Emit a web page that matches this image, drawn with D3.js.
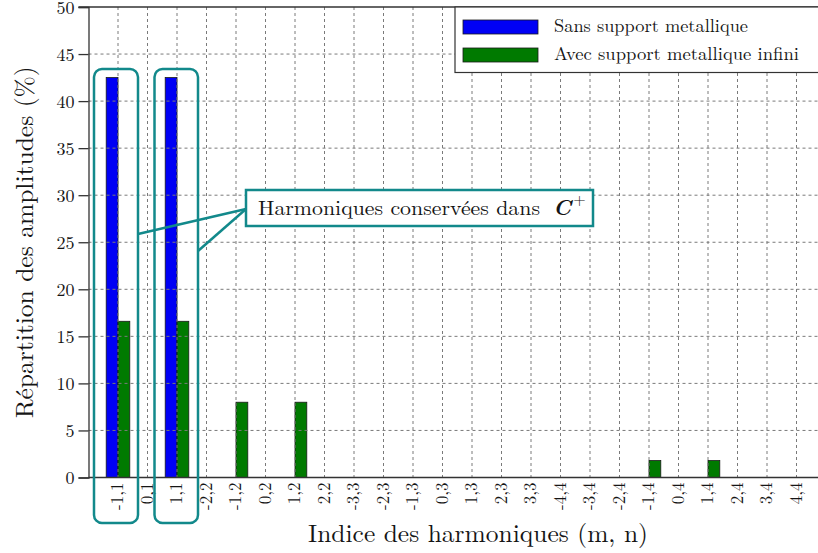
<!DOCTYPE html>
<html>
<head>
<meta charset="utf-8">
<script src="https://cdn.jsdelivr.net/npm/d3@7"></script>
<style>
  html, body { margin: 0; padding: 0; background: #fff; }
  svg { display: block; }
  text { font-family: "Latin Modern Roman", "CMU Serif", "Liberation Serif", "DejaVu Serif", Tinos, "Noto Serif", "Nimbus Roman", FreeSerif, "Times New Roman", Times, serif; fill: #151515; }
</style>
</head>
<body>
<svg id="chart" width="818" height="553"></svg>
<script>
// Harmonic indices (m,n)
const categories = ["-1,1","0,1","1,1","-2,2","-1,2","0,2","1,2","2,2",
  "-3,3","-2,3","-1,3","0,3","1,3","2,3","3,3",
  "-4,4","-3,4","-2,4","-1,4","0,4","1,4","2,4","3,4","4,4"];
// Amplitude share (%) for each configuration
const sansSupport = [42.5,0,42.5,0,0,0,0,0, 0,0,0,0,0,0,0, 0,0,0,0,0,0,0,0,0];
const avecSupport = [16.6,0,16.6,0,8,0,8,0, 0,0,0,0,0,0,0, 0,0,0,1.8,0,1.8,0,0,0];
const seriesNames = ["Sans support metallique", "Avec support metallique infini"];
const seriesColors = ["#0000f5", "#007a00"];
const yTicks = [0,5,10,15,20,25,30,35,40,45,50];

const svg = d3.select("#chart");
const teal = "#12898b";
const ink = "#151515";
const serif = "'Latin Modern Roman', 'CMU Serif', 'Liberation Serif', 'DejaVu Serif', Tinos, 'Noto Serif', 'Nimbus Roman', FreeSerif, 'Times New Roman', Times, serif";

const plotLeft = 88.5, plotRight = 826, plotTop = 7, plotBottom = 477.5;

const x = d3.scaleBand().domain(categories).range([103.25, 811.25]);
const xs = d3.scaleBand().domain([0, 1]).range([x.step() * 0.1, x.step() * 0.9]);
const y = d3.scaleLinear().domain([0, 50]).range([plotBottom, plotTop]);

const data = categories.map((c, i) => ({ c, v: [sansSupport[i], avecSupport[i]] }));

// Bars
const groups = svg.append("g").selectAll("g").data(data).join("g")
  .attr("transform", d => `translate(${x(d.c)},0)`);
groups.selectAll("rect")
  .data(d => d.v.map((v, k) => ({ v, k })).filter(e => e.v > 0))
  .join("rect")
  .attr("x", e => xs(e.k))
  .attr("width", xs.bandwidth())
  .attr("y", e => y(e.v))
  .attr("height", e => y(0) - y(e.v))
  .attr("fill", e => seriesColors[e.k])
  .attr("stroke", "#1a1a1a")
  .attr("stroke-width", 0.8);

// Dotted grid
const grid = svg.append("g").attr("stroke", "#7a7a7a").attr("stroke-width", 1)
  .attr("stroke-dasharray", "3,3").attr("fill", "none");
grid.selectAll("line.v").data(categories).join("line").attr("class", "v")
  .attr("x1", c => x(c) + x.bandwidth() / 2).attr("x2", c => x(c) + x.bandwidth() / 2)
  .attr("y1", plotTop).attr("y2", plotBottom);
grid.selectAll("line.h").data(yTicks.slice(1, -1)).join("line").attr("class", "h")
  .attr("x1", plotLeft).attr("x2", plotRight)
  .attr("y1", d => y(d)).attr("y2", d => y(d));

// Y axis
const yAxis = svg.append("g").attr("transform", `translate(${plotLeft},0)`)
  .call(d3.axisLeft(y).tickValues(yTicks).tickSize(10).tickPadding(4));
yAxis.attr("font-family", serif);
yAxis.select(".domain").attr("stroke", "#333").attr("stroke-width", 1.3);
yAxis.selectAll(".tick line").attr("stroke", "#333").attr("stroke-width", 1.3);
yAxis.selectAll(".tick text").attr("font-size", 18).attr("dy", "0.36em").attr("fill", ink);

// X axis
const xAxis = svg.append("g").attr("transform", `translate(0,${plotBottom})`)
  .call(d3.axisBottom(x).tickSize(0).tickPadding(0));
xAxis.attr("font-family", serif);
xAxis.select(".domain").remove();
xAxis.selectAll(".tick text")
  .attr("font-size", 17).attr("fill", ink)
  .attr("text-anchor", "end").attr("transform", "rotate(-90)")
  .attr("x", -5).attr("y", 0).attr("dy", "0.32em");

// Frame lines
svg.append("line").attr("x1", plotLeft - 10).attr("x2", plotRight).attr("y1", plotTop).attr("y2", plotTop)
  .attr("stroke", "#333").attr("stroke-width", 1.3);
svg.append("line").attr("x1", plotLeft).attr("x2", plotRight).attr("y1", plotBottom).attr("y2", plotBottom)
  .attr("stroke", "#333").attr("stroke-width", 1.3);

// Axis titles
svg.append("text").attr("x", 478).attr("y", 542).attr("text-anchor", "middle")
  .attr("font-size", 25).attr("textLength", 340).attr("lengthAdjust", "spacingAndGlyphs")
  .text("Indice des harmoniques (m, n)");
svg.append("text").attr("transform", `translate(33,${(plotTop + plotBottom) / 2}) rotate(-90)`)
  .attr("text-anchor", "middle").attr("font-size", 25)
  .attr("textLength", 352).attr("lengthAdjust", "spacingAndGlyphs")
  .text("Répartition des amplitudes (%)");

// Legend
const legend = svg.append("g");
legend.append("rect").attr("x", 455).attr("y", plotTop).attr("width", 420).attr("height", 65.5)
  .attr("fill", "#fff").attr("stroke", "#333").attr("stroke-width", 1.2);
seriesNames.forEach((name, k) => {
  const yy = 20 + k * 28;
  legend.append("rect").attr("x", 463).attr("y", yy).attr("width", 75).attr("height", 14)
    .attr("fill", seriesColors[k]).attr("stroke", "#1a1a1a").attr("stroke-width", 0.8);
  legend.append("text").attr("x", 554).attr("y", yy + 12).attr("font-size", 18.5)
    .attr("textLength", k === 0 ? 194 : 245).attr("lengthAdjust", "spacingAndGlyphs")
    .text(name);
});

// Callout: harmonics kept in C+
const callout = svg.append("g").attr("stroke", teal).attr("fill", "none").attr("stroke-width", 2.5);
callout.append("rect").attr("x", 94).attr("y", 69).attr("width", 44).attr("height", 454).attr("rx", 8);
callout.append("rect").attr("x", 154.5).attr("y", 69).attr("width", 43.5).attr("height", 454).attr("rx", 8);
callout.append("line").attr("x1", 138).attr("y1", 234).attr("x2", 246).attr("y2", 209);
callout.append("line").attr("x1", 198).attr("y1", 251).attr("x2", 246).attr("y2", 209);
callout.append("rect").attr("x", 246).attr("y", 190).attr("width", 347).attr("height", 36)
  .attr("fill", "#fff");
const note = svg.append("text").attr("x", 258).attr("y", 215).attr("font-size", 20.5);
note.append("tspan").attr("textLength", 282).attr("lengthAdjust", "spacingAndGlyphs")
  .text("Harmoniques conservées dans");
note.append("tspan").attr("x", 553).attr("font-weight", "bold").attr("font-style", "italic")
  .attr("font-size", 22).text("C");
note.append("tspan").attr("dx", 2).attr("dy", -10).attr("font-size", 16).text("+");
</script>
</body>
</html>
